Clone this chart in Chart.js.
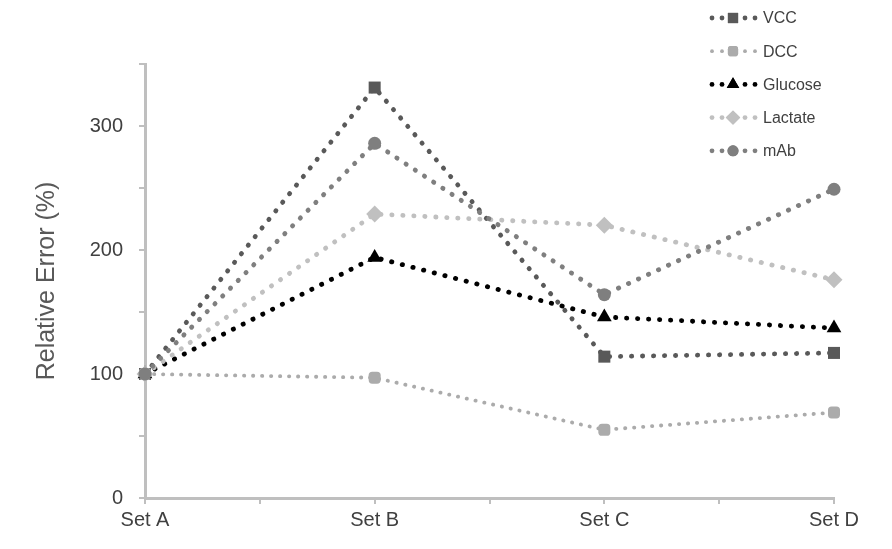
<!DOCTYPE html>
<html>
<head>
<meta charset="utf-8">
<script src="https://cdn.jsdelivr.net/npm/chart.js@4"></script>
<style>
  html, body { margin: 0; padding: 0; background: #fff; }
  #wrap { width: 892px; height: 549px; position: relative; }
</style>
</head>
<body>
<div id="wrap"><canvas id="chart"></canvas></div>
<script>
// === Данные ===
const categories = ['Set A', 'Set B', 'Set C', 'Set D'];
const vcc     = [100, 331, 114, 117];
const dcc     = [100,  97,  55,  69];
const glucose = [100, 194, 146, 137];
const lactate = [100, 229, 220, 176];
const mab     = [100, 286, 164, 249];
const yTicks  = [0, 100, 200, 300];

const FONT = '"Liberation Sans", Arial, sans-serif';
const pts = arr => arr.map((v, i) => ({ x: i, y: v }));

const series = [
  { label: 'VCC',     data: vcc,     color: '#595959', style: 'rect',        r: 8.5, w: 4.8, gap: 11, order: 5 },
  { label: 'DCC',     data: dcc,     color: '#ababab', style: 'rectRounded', r: 7,   w: 3.8, gap: 9,  order: 4 },
  { label: 'Glucose', data: glucose, color: '#000000', style: 'triangle',    r: 8.5, w: 4.8, gap: 11, order: 3 },
  { label: 'Lactate', data: lactate, color: '#c0c0c0', style: 'rectRot',     r: 8.5, w: 4.8, gap: 11, order: 2 },
  { label: 'mAb',     data: mab,     color: '#7f7f7f', style: 'circle',      r: 6.5, w: 4.8, gap: 11, order: 1 }
];

// === Легенда справа сверху (линия-образец + маркер) ===
const legendPlugin = {
  id: 'sideLegend',
  afterDraw(chart) {
    const ctx = chart.ctx;
    const x0 = 712, y0 = 18, step = 33.2;
    ctx.save();
    series.forEach((s, i) => {
      const y = y0 + i * step;
      ctx.fillStyle = s.color;
      [0, 10, 33, 43].forEach(dx => {
        ctx.beginPath();
        ctx.arc(x0 + dx, y, s.w / 2, 0, Math.PI * 2);
        ctx.fill();
      });
      Chart.helpers.drawPoint(ctx, {
        pointStyle: s.style, radius: s.r * 0.85, rotation: 0, borderWidth: 0
      }, x0 + 21, y);
      ctx.fill();
      ctx.fillStyle = '#404040';
      ctx.font = '16px ' + FONT;
      ctx.textBaseline = 'middle';
      ctx.fillText(s.label, 763, y + 1);
    });
    ctx.restore();
  }
};

new Chart(document.getElementById('chart'), {
  type: 'line',
  data: {
    datasets: series.map(s => ({
      label: s.label,
      data: pts(s.data),
      borderColor: s.color,
      backgroundColor: s.color,
      borderWidth: s.w,
      borderDash: [0.3, s.gap - 0.3],
      borderCapStyle: 'round',
      pointStyle: s.style,
      pointRadius: s.r,
      pointHoverRadius: s.r,
      pointBorderWidth: 0,
      tension: 0,
      clip: false,
      order: s.order
    }))
  },
  plugins: [legendPlugin],
  options: {
    responsive: true,
    maintainAspectRatio: false,
    animation: false,
    layout: { padding: { top: 64, right: 58, left: 0, bottom: 0 } },
    plugins: { legend: { display: false }, tooltip: { enabled: false } },
    scales: {
      x: {
        type: 'linear',
        min: 0, max: categories.length - 1,
        afterFit: s => { s.height = 51; },
        border: { color: '#bfbfbf', width: 3 },
        grid: { drawOnChartArea: false, drawTicks: true, tickLength: 6, color: '#bfbfbf', lineWidth: 2 },
        ticks: {
          stepSize: 0.5, autoSkip: false, maxRotation: 0, padding: 4,
          color: '#404040', font: { family: FONT, size: 20 },
          callback: v => Number.isInteger(v) ? categories[v] : ''
        }
      },
      y: {
        min: 0, max: 350,
        afterFit: s => { s.width = 145; },
        border: { color: '#bfbfbf', width: 3 },
        grid: { drawOnChartArea: false, drawTicks: true, tickLength: 6, color: '#bfbfbf', lineWidth: 2 },
        ticks: {
          stepSize: 50, padding: 16,
          color: '#404040', font: { family: FONT, size: 20 },
          callback: v => yTicks.includes(v) ? v : ''
        },
        title: {
          display: true, text: 'Relative Error (%)',
          color: '#595959', font: { family: FONT, size: 25 },
          padding: { top: 32, bottom: 0 }
        }
      }
    }
  }
});
</script>
</body>
</html>
